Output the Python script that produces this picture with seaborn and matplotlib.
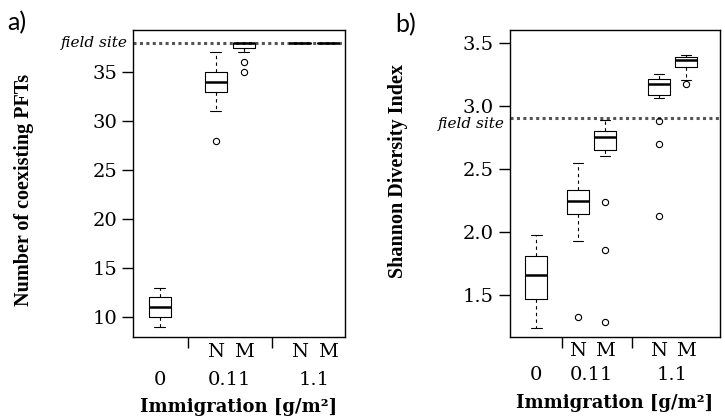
import numpy as np
import pandas as pd
import seaborn as sns
import matplotlib.pyplot as plt
from matplotlib.ticker import FormatStrFormatter
from matplotlib.transforms import offset_copy

# immigration treatments: none, then N / M at 0.11 and 1.1 g/m2
groups = ["0", "0.11 N", "0.11 M", "1.1 N", "1.1 M"]
pos_a = [1, 3, 4, 6, 7]
pos_b = [1.45, 3, 4, 6, 7]
rate_labels = ["0", "0.11", "1.1"]
mode_labels = ["N", "M", "N", "M"]

# a) number of coexisting PFTs per run
pfts = [
    [9, 10, 10, 11, 11, 11, 12, 12, 13],
    [28, 31, 33, 33, 34, 34, 34, 35, 35, 36, 37],
    [35, 36, 37, 38, 38, 38, 38, 38, 38, 38, 38],
    [38, 38, 38, 38, 38, 38, 38, 38, 38, 38, 38],
    [38, 38, 38, 38, 38, 38, 38, 38, 38, 38, 38],
]

# b) Shannon diversity per run
shannon = [
    [1.24, 1.38, 1.47, 1.58, 1.66, 1.72, 1.81, 1.90, 1.98],
    [1.33, 1.93, 2.14, 2.14, 2.20, 2.25, 2.28, 2.32, 2.34, 2.45, 2.55],
    [1.29, 1.86, 2.24, 2.60, 2.70, 2.72, 2.74, 2.75, 2.77, 2.78, 2.80,
     2.80, 2.84, 2.87, 2.89],
    [2.13, 2.70, 2.88, 3.06, 3.11, 3.13, 3.15, 3.17, 3.18, 3.20, 3.21,
     3.22, 3.23, 3.24, 3.25],
    [3.17, 3.20, 3.30, 3.31, 3.34, 3.36, 3.37, 3.38, 3.39, 3.40, 3.405],
]

field_site_a = 38
field_site_b = 2.90

sns.set_style("ticks")
plt.rcParams["font.family"] = ["DejaVu Serif"]
plt.rcParams["axes.linewidth"] = 1.0
for key in ["text.color", "axes.labelcolor", "xtick.color", "ytick.color",
            "axes.edgecolor"]:
    plt.rcParams[key] = "black"


def draw_panel(ax, values, pos, field, ylim, yticks, xlim, seps, ylabel,
               fmt, label_xy, xlabel_y, num_y, nm_y, field_dy=0):
    df = pd.DataFrame({
        "pos": np.repeat(pos, [len(v) for v in values]),
        "value": np.concatenate(values),
    })
    ax.axhline(field, color="#555555", linewidth=2.2,
               linestyle=(0, (1, 1.1)), zorder=1)
    sns.boxplot(data=df, x="pos", y="value", native_scale=True, fill=False,
                color="black", width=0.8, linewidth=0.8, ax=ax,
                whiskerprops=dict(linestyle=(0, (3, 3))),
                medianprops=dict(linewidth=1.8),
                flierprops=dict(marker="o", markersize=4.5,
                                markerfacecolor="none",
                                markeredgecolor="black",
                                markeredgewidth=0.8))
    ax.set_xlim(*xlim)
    ax.set_ylim(*ylim)
    ax.set_yticks(yticks)
    ax.yaxis.set_major_formatter(FormatStrFormatter(fmt))
    ax.set_xticks(seps)
    ax.set_xticklabels([])
    ax.tick_params(axis="both", direction="out", length=8, width=1.0,
                   labelsize=14)
    for s in ax.spines.values():
        s.set_visible(True)
        s.set_color("black")
    ax.set_xlabel("Immigration [g/m²]", fontsize=13, fontweight="bold")
    ax.xaxis.set_label_coords(0.5, xlabel_y)
    ax.set_ylabel(ylabel, fontsize=14.5, fontweight="bold",
                  family="Liberation Serif")
    ax.yaxis.set_label_coords(*label_xy)
    field_tr = offset_copy(ax.get_yaxis_transform(), fig=ax.figure,
                           x=0, y=field_dy, units="points")
    ax.text(-0.025, field, "field site", transform=field_tr,
            ha="right", va="center", style="italic", fontsize=11,
            clip_on=False)

    tr = ax.get_xaxis_transform()
    rate_x = [pos[0], (pos[1] + pos[2]) / 2, (pos[3] + pos[4]) / 2]
    for x, lab in zip(rate_x, rate_labels):
        ax.text(x, num_y, lab, transform=tr, ha="center", va="center",
                fontsize=14, clip_on=False)
    for x, lab in zip(pos[1:], mode_labels):
        ax.text(x, nm_y, lab, transform=tr, ha="center", va="center",
                fontsize=14, clip_on=False)


fig = plt.figure(figsize=(7.25, 4.16), dpi=100)
ax_a = fig.add_axes([0.1834, 0.19, 0.292, 0.738])
ax_b = fig.add_axes([0.7034, 0.19, 0.2897, 0.738])

draw_panel(ax_a, pfts, pos_a, field_site_a, (7.96, 39.3),
           [10, 15, 20, 25, 30, 35], (0.04, 7.6), [2, 5],
           "Number of coexisting PFTs", "%d", (-0.467, 0.48), -0.2,
           -0.14, -0.05)
draw_panel(ax_b, shannon, pos_b, field_site_b, (1.17, 3.6),
           [1.5, 2.0, 2.5, 3.0, 3.5], (0.48, 8.26), [2.4, 5],
           "Shannon Diversity Index", "%.1f", (-0.486, 0.54), -0.185,
           -0.125, -0.045, field_dy=-4)

fig.text(7 / 725, 1 - 30 / 416, "a)", family=["Lato", "DejaVu Sans"],
         fontsize=18, va="baseline")
fig.text(395 / 725, 1 - 32 / 416, "b)", family=["Lato", "DejaVu Sans"],
         fontsize=18, va="baseline")

fig.savefig("out.png", dpi=100)
